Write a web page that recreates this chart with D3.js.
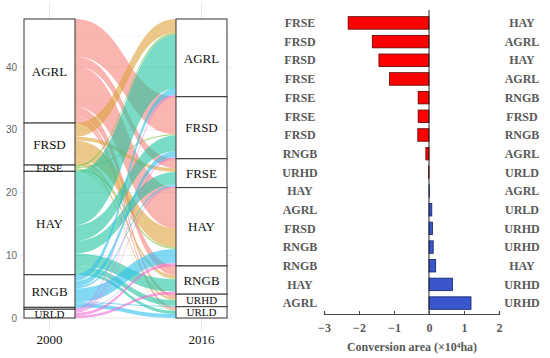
<!DOCTYPE html>
<html>
<head>
<meta charset="utf-8">
<script src="https://cdn.jsdelivr.net/npm/d3@7"></script>
<style>
  body { margin: 0; background: #fff; }
  svg { display: block; }
  .serif { font-family: "Liberation Serif", "Times New Roman", Times, "DejaVu Serif", serif; }
</style>
</head>
<body>
<div id="chart"></div>
<script>
// land use classes, top to bottom
const landTypes = ["AGRL", "FRSD", "FRSE", "HAY", "RNGB", "URHD", "URLD"];
const typeColors = ["#f6837c", "#dea23c", "#7fc043", "#22c4a2", "#2ec0ec", "#8d88f2", "#f06ad2"];
const years = ["2000", "2016"];

// [from 2000, to 2016, area]
const flows = [
  ["AGRL", "FRSD", 6.0], ["AGRL", "FRSE", 1.5], ["AGRL", "HAY", 6.5], ["AGRL", "RNGB", 1.5], ["AGRL", "URHD", 0.6], ["AGRL", "URLD", 0.5],
  ["FRSD", "AGRL", 2.2], ["FRSD", "FRSE", 0.6], ["FRSD", "HAY", 3.0], ["FRSD", "RNGB", 0.5], ["FRSD", "URHD", 0.3], ["FRSD", "URLD", 0.1],
  ["FRSE", "AGRL", 0.3], ["FRSE", "FRSD", 0.2], ["FRSE", "HAY", 0.3], ["FRSE", "RNGB", 0.1], ["FRSE", "URHD", 0.05], ["FRSE", "URLD", 0.05],
  ["HAY", "AGRL", 8.6], ["HAY", "FRSD", 2.5], ["HAY", "FRSE", 2.0], ["HAY", "RNGB", 2.0], ["HAY", "URHD", 0.9], ["HAY", "URLD", 0.5],
  ["RNGB", "AGRL", 1.0], ["RNGB", "FRSD", 0.9], ["RNGB", "FRSE", 0.3], ["RNGB", "HAY", 2.2], ["RNGB", "URHD", 0.15], ["RNGB", "URLD", 0.65],
  ["URHD", "AGRL", 0.1], ["URHD", "FRSD", 0.1], ["URHD", "FRSE", 0.05], ["URHD", "HAY", 0.05],
  ["URLD", "AGRL", 0.2], ["URLD", "FRSD", 0.2], ["URLD", "FRSE", 0.15], ["URLD", "HAY", 0.45], ["URLD", "RNGB", 0.4]
];
const yTicks = [0, 10, 20, 30, 40];

// conversion bars
const barFrom = ["FRSE", "FRSD", "FRSD", "FRSE", "FRSE", "FRSE", "FRSD", "RNGB", "URHD", "HAY", "AGRL", "FRSD", "RNGB", "RNGB", "HAY", "AGRL"];
const barTo = ["HAY", "AGRL", "HAY", "AGRL", "RNGB", "FRSD", "RNGB", "AGRL", "URLD", "AGRL", "URLD", "URHD", "URHD", "HAY", "URHD", "URHD"];
const barValues = [-2.31, -1.62, -1.43, -1.13, -0.31, -0.31, -0.32, -0.09, -0.01, 0.01, 0.08, 0.1, 0.12, 0.19, 0.67, 1.2];
const xTicks = [-3, -2, -1, 0, 1, 2];

const W = 550, H = 358;
const svg = d3.select("#chart").append("svg")
  .attr("width", W).attr("height", H);

// ---------- alluvial (left) ----------
const total = d3.sum(flows, d => d[2]);
const y = d3.scaleLinear().domain([0, total]).range([318, 19]);
const colW = 51;
const xL = d3.scaleOrdinal().domain(years).range([24, 176]);
const color = d3.scaleOrdinal().domain(landTypes).range(typeColors);

const gAll = svg.append("g");

// faint panel grid
const minor = [5, 15, 25, 35, 45];
gAll.selectAll("line.minor").data(minor).join("line")
  .attr("x1", 20).attr("x2", 232)
  .attr("y1", d => y(d)).attr("y2", d => y(d))
  .attr("stroke", "#f3f3f3").attr("stroke-width", 0.6);
gAll.selectAll("line.major").data(yTicks).join("line")
  .attr("x1", 20).attr("x2", 232)
  .attr("y1", d => y(d)).attr("y2", d => y(d))
  .attr("stroke", "#ebebeb").attr("stroke-width", 1);
gAll.selectAll("line.vgrid").data(years).join("line")
  .attr("x1", d => xL(d) + colW / 2).attr("x2", d => xL(d) + colW / 2)
  .attr("y1", 2).attr("y2", 330)
  .attr("stroke", "#ebebeb").attr("stroke-width", 1);

// node stacks
function stackNodes(key) {
  const sums = landTypes.map(t => d3.sum(flows.filter(f => f[key] === t), f => f[2]));
  let top = total;
  return landTypes.map((t, i) => {
    const n = { type: t, top: top, bottom: top - sums[i] };
    top -= sums[i];
    return n;
  });
}
const leftNodes = stackNodes(0);
const rightNodes = stackNodes(1);

// flow positions inside nodes
const leftCursor = {}, rightCursor = {};
leftNodes.forEach(n => leftCursor[n.type] = n.top);
rightNodes.forEach(n => rightCursor[n.type] = n.top);
const sortedL = flows.slice().sort((a, b) =>
  landTypes.indexOf(a[0]) - landTypes.indexOf(b[0]) || landTypes.indexOf(a[1]) - landTypes.indexOf(b[1]));
const links = sortedL.map(f => {
  const l = { from: f[0], to: f[1], v: f[2] };
  l.l0 = leftCursor[f[0]]; l.l1 = l.l0 - f[2]; leftCursor[f[0]] = l.l1;
  return l;
});
links.slice().sort((a, b) =>
  landTypes.indexOf(a.to) - landTypes.indexOf(b.to) || landTypes.indexOf(a.from) - landTypes.indexOf(b.from))
  .forEach(l => { l.r0 = rightCursor[l.to]; l.r1 = l.r0 - l.v; rightCursor[l.to] = l.r1; });

const x0 = xL(years[0]) + colW, x1 = xL(years[1]);
const xm = (x0 + x1) / 2;
function flowPath(l) {
  const a = y(l.l0), b = y(l.l1), c = y(l.r0), d = y(l.r1);
  return `M${x0},${a}C${xm},${a} ${xm},${c} ${x1},${c}L${x1},${d}C${xm},${d} ${xm},${b} ${x0},${b}Z`;
}
gAll.append("g").selectAll("path").data(links).join("path")
  .attr("d", flowPath)
  .attr("fill", d => color(d.from))
  .attr("fill-opacity", 0.6)
  .attr("stroke", "none");

// strata
[[years[0], leftNodes], [years[1], rightNodes]].forEach(([yr, nodes]) => {
  const g = gAll.append("g");
  g.selectAll("rect").data(nodes).join("rect")
    .attr("x", xL(yr)).attr("width", colW)
    .attr("y", d => y(d.top)).attr("height", d => y(d.bottom) - y(d.top))
    .attr("fill", "#fff").attr("stroke", "#333").attr("stroke-width", 1);
  g.selectAll("text").data(nodes).join("text")
    .attr("class", "serif")
    .attr("x", xL(yr) + colW / 2)
    .attr("y", d => (y(d.top) + y(d.bottom)) / 2)
    .attr("dy", "0.36em")
    .attr("text-anchor", "middle")
    .style("font-size", d => (y(d.bottom) - y(d.top)) < 15 ? "11px" : "13px")
    .attr("fill", "#111")
    .text(d => (d.top - d.bottom) > 0.5 ? d.type : "");
  g.append("text")
    .attr("class", "serif")
    .attr("x", xL(yr) + colW / 2).attr("y", 344)
    .attr("text-anchor", "middle")
    .style("font-size", "13px")
    .attr("fill", "#111")
    .text(yr);
});

// y tick labels
gAll.selectAll("text.ytick").data(yTicks).join("text")
  .attr("class", "ytick")
  .attr("x", 17).attr("y", d => y(d)).attr("dy", "0.35em")
  .attr("text-anchor", "end")
  .style("font-family", "'Liberation Sans', Arial, sans-serif")
  .style("font-size", "10px")
  .attr("fill", "#666")
  .text(d => d);

// ---------- conversion bars (right) ----------
const bx = d3.scaleLinear().domain([-3, 2]).range([324, 499]);
const by = d3.scaleBand().domain(d3.range(barValues.length)).range([10.5, 315.5]).padding(0.33);
const gBar = svg.append("g");

gBar.selectAll("rect").data(barValues).join("rect")
  .attr("x", d => bx(Math.min(0, d)))
  .attr("width", d => Math.abs(bx(d) - bx(0)))
  .attr("y", (d, i) => by(i))
  .attr("height", by.bandwidth())
  .attr("fill", d => d < 0 ? "#ff0000" : "#3a56cc")
  .attr("stroke", d => d < 0 ? "#5a0000" : "#14206a")
  .attr("stroke-width", 0.8);

gBar.append("line")
  .attr("x1", bx(0)).attr("x2", bx(0))
  .attr("y1", 10).attr("y2", 314)
  .attr("stroke", "#222").attr("stroke-width", 1);

gBar.selectAll("text.from").data(barFrom).join("text")
  .attr("class", "from serif")
  .attr("x", 300).attr("y", (d, i) => by(i) + by.bandwidth() / 2).attr("dy", "0.35em")
  .attr("text-anchor", "middle")
  .style("font-size", "12px").style("font-weight", "bold")
  .attr("fill", "#595959")
  .text(d => d);

gBar.selectAll("text.to").data(barTo).join("text")
  .attr("class", "to serif")
  .attr("x", 522).attr("y", (d, i) => by(i) + by.bandwidth() / 2).attr("dy", "0.35em")
  .attr("text-anchor", "middle")
  .style("font-size", "12px").style("font-weight", "bold")
  .attr("fill", "#595959")
  .text(d => d);

const xAxis = d3.axisBottom(bx).tickValues(xTicks).tickSize(-3).tickSizeOuter(-3)
  .tickFormat(d => d < 0 ? "\u2212" + Math.abs(d) : d);
const ax = gBar.append("g").attr("transform", "translate(0,314)").call(xAxis);
ax.attr("font-family", null);
ax.select(".domain").attr("stroke", "#444").attr("stroke-width", 1.2);
ax.selectAll(".tick line").attr("stroke", "#444");
ax.selectAll(".tick text")
  .attr("class", "serif")
  .attr("y", 9)
  .style("font-size", "12px").style("font-weight", "bold")
  .attr("fill", "#595959");

gBar.append("text")
  .attr("class", "serif")
  .attr("x", 412).attr("y", 351)
  .attr("text-anchor", "middle")
  .style("font-size", "12px").style("font-weight", "bold")
  .attr("fill", "#595959")
  .text("Conversion area (\u00d710\u2074ha)");
</script>
</body>
</html>
